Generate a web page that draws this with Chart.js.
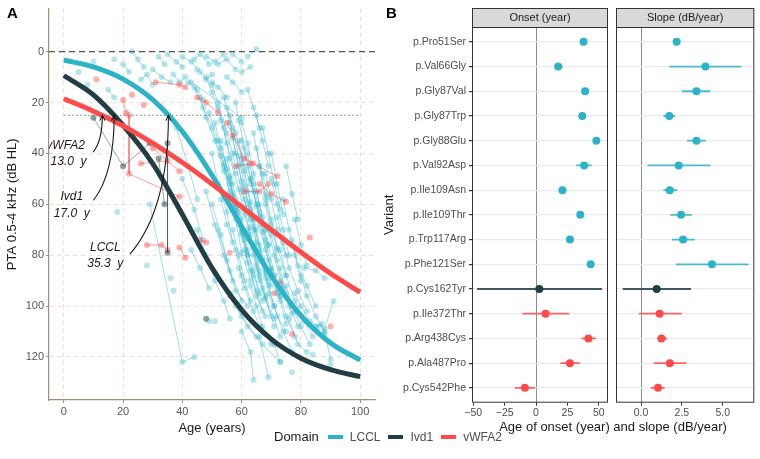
<!DOCTYPE html>
<html>
<head>
<meta charset="utf-8">
<title>PTA progression and onset by variant</title>
<script src="https://cdn.jsdelivr.net/npm/chart.js@4.4.1/dist/chart.umd.min.js"></script>
<style>
  body { margin: 0; background: #fff; }
  #wrap { position: relative; width: 760px; height: 459px; overflow: hidden; font-family: "Liberation Sans", Arial, sans-serif; }
  #wrap canvas { position: absolute; top: 0; }
  .tag { position: absolute; font-weight: bold; font-size: 15px; color: #000; }
  #xtitleB { position: absolute; left: 472px; width: 282px; top: 419px; text-align: center; font-size: 13px; color: #1a1a1a; }
  #legend { position: absolute; left: 274px; top: 429px; display: flex; align-items: center; font-size: 12px; color: #4d4d4d; }
  #legend .title { font-size: 13px; color: #1a1a1a; margin-right: 9px; }
  #legend .key { display: inline-block; width: 15px; height: 4px; margin-right: 7px; }
  #legend .name { margin-right: 8px; }
</style>
</head>
<body>
<div id="wrap">
  <canvas id="chartA" width="380" height="440" style="left:0px"></canvas>
  <canvas id="chartOnset" width="232" height="420" style="left:380px"></canvas>
  <canvas id="chartSlope" width="148" height="420" style="left:612px"></canvas>
  <div class="tag" style="left:7px; top:4px">A</div>
  <div class="tag" style="left:386px; top:4px">B</div>
  <div id="xtitleB">Age of onset (year) and slope (dB/year)</div>
  <div id="legend">
    <span class="title">Domain</span>
    <span class="key" style="background:#2bb4c8"></span><span class="name">LCCL</span>
    <span class="key" style="background:#203e44"></span><span class="name">Ivd1</span>
    <span class="key" style="background:#fe4a49"></span><span class="name">vWFA2</span>
  </div>
</div>
<script>
// ---------- Panel A: fitted curves (every 10 years) ----------
const curveAges = [0, 10, 20, 30, 40, 50, 60, 70, 80, 90, 100];
const lcclCurve = [3.3, 6, 10.8, 18.9, 31.4, 48.6, 68.7, 88.1, 103.7, 114.5, 121.2];
const ivdCurve = [9.4, 17, 29, 44, 64, 85, 101.5, 113, 120.5, 125, 127.7];
const vwfaCurve = [18.5, 23.4, 29.2, 36, 43.6, 52, 61, 70, 78.8, 87.2, 94.5];

// age at which each fit crosses the 25 dB threshold
const onsetNames = ['vWFA2', 'Ivd1', 'LCCL'];
const onsetAges = [13.0, 17.0, 35.3];
const onsetThreshold = 25;

const ageTicks = [0, 20, 40, 60, 80, 100];
const ptaTicks = [0, 20, 40, 60, 80, 100, 120];

// patient measurements: [age, PTA dB HL]
const lcclPatients = [
  [[5, 8]], [[10, 4]], [[8, 13]], [[15, 15], [17, 18]], [[17, 3]], [[20, 5], [22, 8]],
  [[23, 0], [25, 3], [27, 6]], [[26, 11], [28, 9], [30, 13]], [[32, 2], [34, 5]],
  [[30, 7], [33, 10], [36, 12]], [[35, 1], [38, 4], [40, 6]], [[37, 9], [39, 12], [41, 10]],
  [[40, 2], [43, 4], [45, 7]], [[42, 12], [45, 15], [47, 19]], [[44, 3], [46, 1], [49, 5]],
  [[46, 8], [48, 11], [50, 9]], [[48, 2], [51, 4], [54, 1]], [[50, 12], [52, 14], [55, 18]],
  [[52, 5], [55, 3], [58, 7]], [[55, 10], [57, 12], [60, 16]], [[57, 1], [60, 4]], [[60, 8], [63, 6]],
  [[62, 2], [65, -1]], [[43, 12], [60, 26]], [[18, 63]], [[28, 84]], [[36, 89]], [[37, 94]],
  [[29, 60], [40, 122], [44, 120]], [[49, 106]], [[51, 106]],
  [[44, 14], [47, 22], [50, 30], [53, 41], [56, 52]],
  [[46, 18], [48, 26], [51, 35], [54, 47], [57, 60], [60, 71]],
  [[48, 10], [50, 16], [53, 27], [55, 36], [58, 48]],
  [[49, 24], [52, 35], [54, 44], [57, 57], [59, 68], [62, 80]],
  [[50, 13], [52, 20], [55, 32], [57, 40], [60, 55], [63, 66]],
  [[51, 28], [53, 38], [56, 49], [58, 61], [61, 72]],
  [[52, 22], [54, 30], [56, 42], [59, 54], [61, 64], [64, 77], [66, 88]],
  [[53, 35], [55, 46], [57, 56], [60, 70], [62, 80]],
  [[54, 18], [56, 28], [58, 40], [60, 51], [63, 62], [65, 75]],
  [[55, 42], [57, 52], [59, 63], [61, 74], [64, 86], [66, 95]],
  [[56, 25], [57, 34], [59, 45], [61, 58], [63, 69]],
  [[56, 50], [58, 62], [60, 72], [62, 83], [65, 94], [67, 102]],
  [[57, 30], [59, 41], [61, 53], [63, 64], [66, 76], [68, 87]],
  [[58, 20], [59, 27], [61, 38], [63, 50], [65, 61]],
  [[58, 58], [60, 66], [62, 78], [64, 88], [67, 98]],
  [[59, 35], [61, 47], [63, 59], [65, 70], [67, 81], [70, 92]],
  [[60, 44], [62, 55], [64, 66], [66, 78], [68, 89], [71, 100]],
  [[60, 28], [62, 36], [64, 48], [66, 60], [68, 70]],
  [[61, 62], [63, 72], [65, 84], [67, 93], [70, 104]],
  [[62, 40], [64, 52], [66, 63], [68, 74], [70, 85], [72, 95]],
  [[62, 70], [64, 80], [66, 90], [68, 97], [71, 108]],
  [[63, 50], [65, 60], [67, 71], [69, 82], [72, 93]],
  [[64, 32], [66, 45], [68, 58], [70, 68], [72, 78]],
  [[64, 76], [66, 86], [68, 96], [71, 105], [73, 112]],
  [[65, 55], [67, 65], [69, 76], [71, 88], [73, 98], [75, 107]],
  [[66, 45], [68, 56], [70, 66], [72, 77], [75, 88]],
  [[67, 82], [69, 92], [71, 100], [74, 110], [77, 118]],
  [[68, 60], [70, 72], [72, 82], [74, 93], [77, 103]],
  [[69, 70], [71, 80], [73, 90], [76, 100], [79, 108]],
  [[70, 50], [72, 60], [74, 70], [76, 80]],
  [[71, 88], [73, 96], [75, 104], [78, 112]],
  [[72, 65], [74, 75], [76, 85], [79, 94], [82, 102]],
  [[73, 78], [75, 88], [78, 98], [81, 106], [84, 112]],
  [[74, 58], [76, 70], [78, 80], [80, 90]],
  [[75, 92], [77, 100], [80, 108], [83, 115]],
  [[77, 74], [79, 84], [82, 92], [85, 100]],
  [[78, 95], [80, 100], [83, 106], [86, 108]],
  [[80, 88], [82, 96], [85, 104], [88, 110], [90, 121]],
  [[81, 85], [85, 86], [88, 89]], [[88, 109], [91, 98]], [[84, 119]],
  [[60, 110], [63, 118], [64, 129]], [[66, 112], [69, 128]],
  [[58, 100], [62, 108], [67, 115], [73, 122]], [[56, 95], [60, 104], [65, 112]],
  [[52, 70], [55, 82], [58, 94], [62, 100]], [[50, 60], [53, 72], [56, 86], [60, 98]],
  [[48, 55], [51, 68], [54, 80], [57, 90]], [[45, 70], [48, 80], [51, 90], [54, 98], [56, 105]],
  [[43, 78], [46, 85], [49, 93]], [[40, 50], [44, 62], [47, 74]], [[38, 30], [42, 45], [45, 58]],
  [[65, 38], [67, 48], [69, 57]], [[67, 30], [69, 40], [71, 52], [73, 62]],
  [[70, 40], [72, 52], [74, 64]], [[75, 45], [77, 56], [79, 66]], [[62, 15], [64, 22], [66, 30]],
  [[76, 105], [79, 115], [82, 118]], [[85, 108], [87, 107], [88, 111]], [[71, 115], [73, 122]],
  [[77, 126]], [[90, 123]],
  [[50, 40], [52, 52], [55, 63], [57, 75]], [[53, 58], [55, 68], [58, 78], [60, 88]],
  [[54, 45], [56, 55], [58, 66], [60, 79], [63, 90]], [[57, 70], [59, 80], [61, 90], [63, 98]],
  [[59, 85], [61, 93], [64, 102], [66, 108]], [[61, 78], [63, 86], [65, 96], [68, 104]],
  [[63, 92], [65, 100], [67, 108], [70, 115]], [[65, 25], [67, 35], [69, 45]],
  [[66, 68], [68, 78], [70, 86], [73, 96]], [[68, 48], [70, 58], [72, 70], [75, 80]],
  [[69, 95], [72, 104], [75, 110]], [[73, 85], [75, 95], [78, 102]],
  [[60, 35], [62, 45], [64, 55], [66, 65], [69, 76]], [[55, 22], [58, 32], [60, 42], [63, 52]],
  [[62, 60], [64, 70], [66, 82], [69, 90]], [[78, 66], [80, 76], [82, 84]]
];

const vwfaPatients = [
  [[11, 11]], [[23, 17]], [[27, 21]], [[20, 19], [21, 24]], [[22, 25], [22, 48], [39, 57]],
  [[31, 12], [39, 13], [41, 14]], [[26, 44], [35, 43]], [[30, 38], [39, 47]],
  [[45, 18], [48, 20], [52, 24]], [[55, 28], [57, 33], [61, 42], [64, 44], [72, 49]],
  [[58, 45], [63, 44]], [[61, 55], [66, 55], [69, 52]], [[66, 52], [70, 56], [75, 59]],
  [[28, 76], [33, 76], [35, 78]], [[39, 77], [41, 81]], [[46, 74], [48, 75]],
  [[56, 79]], [[56, 96]], [[71, 95]], [[73, 91]], [[83, 73]], [[77, 111]], [[90, 108]]
];

const ivdPatients = [
  [[10, 26], [20, 45], [29, 36]], [[35, 36], [35, 79]], [[32, 42], [34, 60]], [[48, 105]]
];

// ---------- Panel B: per-variant estimates ----------
const variants = ['p.Pro51Ser', 'p.Val66Gly', 'p.Gly87Val', 'p.Gly87Trp', 'p.Gly88Glu', 'p.Val92Asp',
  'p.Ile109Asn', 'p.Ile109Thr', 'p.Trp117Arg', 'p.Phe121Ser', 'p.Cys162Tyr', 'p.Ile372Thr',
  'p.Arg438Cys', 'p.Ala487Pro', 'p.Cys542Phe'];
const variantDomain = ['LCCL', 'LCCL', 'LCCL', 'LCCL', 'LCCL', 'LCCL', 'LCCL', 'LCCL', 'LCCL', 'LCCL',
  'Ivd1', 'vWFA2', 'vWFA2', 'vWFA2', 'vWFA2'];

const onset = [37.8, 17.6, 39.1, 36.8, 48.0, 38.3, 21.0, 35.2, 27.0, 43.5, 2.6, 7.6, 41.7, 27.0, -8.9];
const onsetLow = [36.8, 14.7, 38.1, 35.8, 47.0, 32.0, 18.1, 34.2, 24.6, 41.7, -47.0, -10.8, 36.2, 19.4, -16.8];
const onsetHigh = [38.8, 21.3, 40.1, 37.8, 49.0, 44.3, 24.2, 36.2, 29.6, 45.7, 52.5, 26.5, 47.8, 34.9, -0.8];
const onsetTicks = [-50, -25, 0, 25, 50];

const slope = [2.18, 3.94, 3.39, 1.73, 3.39, 2.31, 1.76, 2.45, 2.57, 4.34, 0.96, 1.14, 1.25, 1.76, 1.04];
const slopeLow = [2.05, 1.73, 2.49, 1.37, 2.81, 0.39, 1.37, 1.80, 1.88, 2.12, -1.12, -0.14, 0.98, 0.78, 0.59];
const slopeHigh = [2.31, 6.14, 4.24, 2.08, 3.96, 4.24, 2.22, 3.10, 3.28, 6.57, 3.06, 2.49, 1.59, 2.78, 1.45];
const slopeTicks = [0, 2.5, 5];

// ---------- styling ----------
const FONT = '"Liberation Sans", Arial, sans-serif';
const domainColors = { LCCL: '#2bb4c8', Ivd1: '#203e44', vWFA2: '#fe4a49' };
const BROWN = '#a68d74';

function rgba(hex, a) {
  const n = parseInt(hex.slice(1), 16);
  return `rgba(${n >> 16}, ${(n >> 8) & 255}, ${n & 255}, ${a})`;
}

// one dataset per domain, patients separated by gaps
function patientSet(patients, color, pointAlpha, lineAlpha) {
  const data = [];
  patients.forEach(p => {
    p.forEach(([age, pta]) => data.push({ x: age, y: pta }));
    data.push({ x: null, y: null });
  });
  return {
    type: 'line', data, spanGaps: false, order: 5,
    borderColor: rgba(color, lineAlpha), borderWidth: 0.9,
    pointRadius: 3, pointBorderWidth: 0, pointBackgroundColor: rgba(color, pointAlpha)
  };
}

function curveSet(values, color, order) {
  return {
    type: 'line', data: curveAges.map((a, i) => ({ x: a, y: values[i] })),
    borderColor: color, borderWidth: 5, pointRadius: 0, cubicInterpolationMode: 'monotone', order
  };
}

// curved arrows from the onset labels to the 25 dB crossing
const arrowPlugin = {
  id: 'onsetArrows',
  afterDatasetsDraw(chart) {
    const { ctx, chartArea: a, scales: { x, y } } = chart;
    const labelPos = [[0.6, 40], [2.7, 60.3], [14, 80]];
    const arrowStart = [[9.9, 39.5], [10, 58.4], [22.3, 79.6]];
    const ctrlY = [35, 48, 62];
    ctx.save();
    ctx.beginPath();
    ctx.rect(a.left, a.top, a.right - a.left, a.bottom - a.top);
    ctx.clip();
    ctx.strokeStyle = '#1a1a1a';
    ctx.fillStyle = '#1a1a1a';
    ctx.lineWidth = 1.1;
    onsetAges.forEach((age, i) => {
      const ex = x.getPixelForValue(age), ey = y.getPixelForValue(onsetThreshold);
      const sx = x.getPixelForValue(arrowStart[i][0]), sy = y.getPixelForValue(arrowStart[i][1]);
      const cx = ex, cy = y.getPixelForValue(ctrlY[i]);
      ctx.beginPath();
      ctx.moveTo(sx, sy);
      ctx.quadraticCurveTo(cx, cy, ex, ey);
      ctx.stroke();
      const ang = Math.atan2(ey - cy, ex - cx);
      ctx.beginPath();
      ctx.moveTo(ex - 6 * Math.cos(ang - 0.45), ey - 6 * Math.sin(ang - 0.45));
      ctx.lineTo(ex, ey);
      ctx.lineTo(ex - 6 * Math.cos(ang + 0.45), ey - 6 * Math.sin(ang + 0.45));
      ctx.stroke();

      ctx.font = 'italic 12px ' + FONT;
      ctx.textAlign = 'center';
      ctx.textBaseline = 'middle';
      const lx = x.getPixelForValue(labelPos[i][0]), ly = y.getPixelForValue(labelPos[i][1]);
      ctx.fillText(onsetNames[i], lx, ly - 8);
      ctx.fillText(age.toFixed(1) + '  y', x.getPixelForValue(labelPos[i][0] + (i === 0 ? 1 : 0)), ly + 8.5);
    });
    ctx.restore();
  }
};

new Chart(document.getElementById('chartA'), {
  type: 'line',
  data: {
    datasets: [
      curveSet(vwfaCurve, domainColors.vWFA2, 0),
      curveSet(ivdCurve, domainColors.Ivd1, 1),
      curveSet(lcclCurve, domainColors.LCCL, 2),
      { type: 'line', data: [{ x: -5, y: 0 }, { x: 105, y: 0 }], borderColor: '#555', borderWidth: 1.1,
        borderDash: [6, 4], pointRadius: 0, order: 3 },
      { type: 'line', data: [{ x: curveAges[0], y: onsetThreshold }, { x: curveAges[curveAges.length - 1], y: onsetThreshold }],
        borderColor: '#777', borderWidth: 0.8, borderDash: [2, 2], pointRadius: 0, order: 3 },
      patientSet(ivdPatients, domainColors.Ivd1, 0.5, 0.5),
      patientSet(vwfaPatients, domainColors.vWFA2, 0.45, 0.6),
      patientSet(lcclPatients, domainColors.LCCL, 0.33, 0.5)
    ]
  },
  options: {
    responsive: false, animation: false, events: [],
    layout: { padding: { top: 8, right: 5, left: 0, bottom: 0 } },
    plugins: { legend: { display: false }, tooltip: { enabled: false } },
    scales: {
      x: {
        type: 'linear', min: -5, max: 105,
        afterBuildTicks: ax => { ax.ticks = ageTicks.map(v => ({ value: v })); },
        afterFit: ax => { ax.height = 40; },
        grid: { color: '#f3dccf', lineWidth: 1, tickLength: 3, tickColor: BROWN },
        border: { color: BROWN, width: 1.2, dash: [4, 4] },
        ticks: { color: '#555', font: { size: 11, family: FONT }, padding: 2, maxRotation: 0 },
        title: { display: true, text: 'Age (years)', color: '#1a1a1a', font: { size: 13, family: FONT }, padding: { top: 0, bottom: 4 } }
      },
      y: {
        type: 'linear', reverse: true, min: -16.9, max: 136.9,
        afterBuildTicks: ax => { ax.ticks = ptaTicks.map(v => ({ value: v })); },
        afterFit: ax => { ax.width = 49; },
        grid: { color: '#f3dccf', lineWidth: 1, tickLength: 3, tickColor: BROWN },
        border: { color: BROWN, width: 1.2, dash: [4, 4] },
        ticks: { color: '#555', font: { size: 11, family: FONT }, padding: 2 },
        title: { display: true, text: 'PTA 0.5-4 kHz (dB HL)', color: '#1a1a1a', font: { size: 13, family: FONT }, padding: { top: 5, bottom: 0 } }
      }
    }
  },
  plugins: [arrowPlugin]
});

// ---------- Panel B ----------
const panelPlugin = {
  id: 'panelFrame',
  afterDraw(chart, args, opts) {
    const { ctx, chartArea: a } = chart;
    ctx.save();
    ctx.fillStyle = '#d9d9d9';
    ctx.fillRect(a.left, 8, a.right - a.left, a.top - 8);
    ctx.strokeStyle = '#333';
    ctx.lineWidth = 1;
    ctx.strokeRect(a.left + 0.5, 8.5, a.right - a.left - 1, a.top - 8);
    ctx.strokeRect(a.left + 0.5, a.top + 0.5, a.right - a.left - 1, a.bottom - a.top - 1);
    ctx.fillStyle = '#1a1a1a';
    ctx.font = '11px ' + FONT;
    ctx.textAlign = 'center';
    ctx.textBaseline = 'middle';
    ctx.fillText(opts.strip, (a.left + a.right) / 2, (8 + a.top) / 2 + 0.5);
    ctx.restore();
  }
};

function forestChart(id, est, low, high, min, max, ticks, fmt, strip, showLabels, padLeft, padRight) {
  const errSets = Object.keys(domainColors).map(d => {
    const data = [];
    variants.forEach((v, i) => {
      if (variantDomain[i] !== d) return;
      data.push({ x: low[i], y: i }, { x: high[i], y: i }, { x: null, y: null });
    });
    return { type: 'line', data, spanGaps: false, borderColor: rgba(domainColors[d], 0.85), borderWidth: 1.8, pointRadius: 0, order: 2 };
  });
  const points = {
    type: 'scatter', data: est.map((v, i) => ({ x: v, y: i })), order: 0,
    pointRadius: 4, pointBorderWidth: 0,
    pointBackgroundColor: variantDomain.map(d => domainColors[d])
  };
  return new Chart(document.getElementById(id), {
    type: 'scatter',
    data: { datasets: [points, ...errSets] },
    options: {
      responsive: false, animation: false, events: [],
      layout: { padding: { top: 27, left: padLeft, right: padRight, bottom: 0 } },
      plugins: { legend: { display: false }, tooltip: { enabled: false }, panelFrame: { strip } },
      scales: {
        x: {
          type: 'linear', min, max,
          afterBuildTicks: ax => { ax.ticks = ticks.map(v => ({ value: v })); },
          afterFit: ax => { ax.height = 17.3; },
          grid: { color: c => (c.tick && c.tick.value === 0 ? '#8c8c8c' : 'rgba(0,0,0,0)'), lineWidth: 1, tickLength: 3, tickColor: '#333' },
          border: { display: false },
          ticks: { color: '#4d4d4d', font: { size: 10.5, family: FONT }, padding: 1, maxRotation: 0, callback: fmt }
        },
        y: {
          type: 'linear', reverse: true, min: -0.6, max: 14.6,
          afterBuildTicks: ax => { ax.ticks = variants.map((v, i) => ({ value: i })); },
          afterFit: ax => { ax.width = showLabels ? 92 : 0; },
          grid: { color: '#ebebeb', lineWidth: 1.2, drawTicks: showLabels, tickLength: 3, tickColor: '#333' },
          border: { display: false },
          ticks: { display: showLabels, color: '#4d4d4d', font: { size: 10.5, family: FONT }, padding: 3, callback: v => variants[v] },
          title: { display: showLabels, text: 'Variant', color: '#1a1a1a', font: { size: 13, family: FONT }, padding: { top: 2, bottom: 0 } }
        }
      }
    },
    plugins: [panelPlugin]
  });
}

forestChart('chartOnset', onset, onsetLow, onsetHigh, -51, 57.3, onsetTicks,
  v => (v < 0 ? '\u2212' + Math.abs(v) : String(v)), 'Onset (year)', true, 0, 2.3);
forestChart('chartSlope', slope, slopeLow, slopeHigh, -1.53, 6.93, slopeTicks,
  v => v.toFixed(1), 'Slope (dB/year)', false, 4, 5.7);
</script>
</body>
</html>
